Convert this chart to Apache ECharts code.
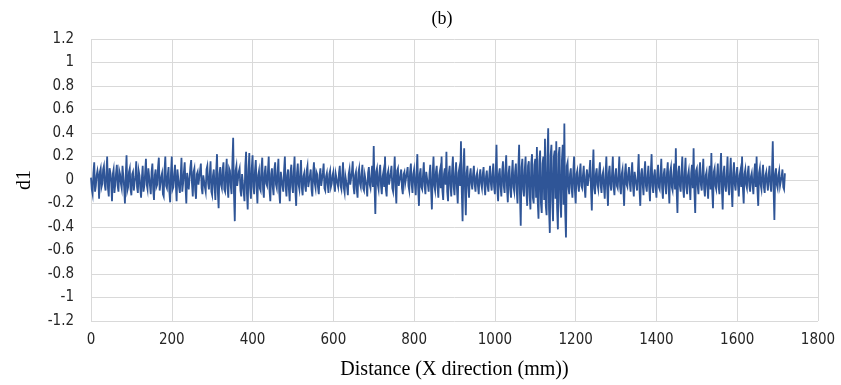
<!DOCTYPE html>
<html>
<head>
<meta charset="utf-8">
<script src="https://cdn.jsdelivr.net/npm/echarts@6/dist/echarts.min.js"></script>
<style>
  html, body { margin: 0; padding: 0; background: #fff; }
  #chart { width: 841px; height: 385px; }
</style>
</head>
<body>
<div id="chart"></div>
<script>
// Detail coefficient d1 sampled every 2 mm along X, from 0 to 1720 mm.
const STEP_MM = 2;
const d1 = [
  // 0 - 98
  0.02,-0.08, -0.12,0.06, 0.15,-0.1, -0.05,0.04, 0.08,0.03, -0.16,0.07, 0.1,-0.06, -0.03,0.09, 0.12,-0.04, -0.09,0.05, 0.2,-0.07, -0.14,0.1, 0.06,-0.02, -0.18,0.05, 0.09,-0.11, -0.04,0.06, 0.13,-0.05, -0.1,0.08, 0.05,-0.03, -0.07,0.12, 0.11,-0.06, -0.2,0.04, 0.21,-0.09, -0.06,0.07, 0.1,-0.08,
  // 100 - 198
  -0.13,0.05, 0.07,-0.09, -0.02,0.03, 0.16,-0.06, -0.11,0.08, 0.04,-0.07, -0.15,0.02, 0.12,-0.1, -0.05,0.06, 0.18,-0.04, -0.08,0.1, 0.03,-0.05, -0.12,0.07, 0.14,-0.08, -0.17,0.04, 0.09,-0.06, -0.04,0.11, 0.19,-0.09, -0.1,0.03, 0.06,-0.12, -0.14,0.08, 0.2,-0.05, -0.07,0.04, 0.11,-0.1, -0.19,0.06,
  // 200 - 298
  0.2,-0.08, -0.06,0.05, 0.13,-0.04, -0.18,0.09, 0.08,-0.06, -0.11,0.03, 0.19,-0.1, -0.03,0.07, 0.15,-0.05, -0.2,0.06, 0.05,-0.08, -0.09,0.11, 0.17,-0.03, -0.14,0.07, 0.1,-0.09, -0.16,0.05, 0.07,-0.04, -0.05,0.08, 0.14,-0.07, -0.12,0.04, 0.04,-0.06, -0.1,0.09, 0.12,-0.03, -0.08,0.05, 0.16,-0.1,
  // 300 - 398
  -0.13,0.04, 0.09,-0.06, -0.17,0.08, 0.22,-0.1, -0.24,0.05, 0.11,-0.04, -0.07,0.09, 0.15,-0.08, -0.1,0.06, 0.18,-0.07, -0.15,0.1, 0.08,-0.05, -0.12,0.14, 0.36,-0.12, -0.35,0.08, 0.12,-0.05, -0.06,0.07, 0.1,-0.09, -0.14,0.05, 0.06,-0.1, -0.18,0.12, 0.24,-0.11, -0.25,0.09, 0.23,-0.07, -0.16,0.1,
  // 400 - 498
  0.21,-0.06, -0.12,0.08, 0.17,-0.05, -0.2,0.04, 0.08,-0.07, -0.09,0.1, 0.19,-0.08, -0.15,0.06, 0.12,-0.03, -0.05,0.07, 0.2,-0.09, -0.18,0.05, 0.1,-0.06, -0.13,0.09, 0.15,-0.04, -0.07,0.06, 0.18,-0.1, -0.2,0.07, 0.06,-0.05, -0.1,0.08, 0.2,-0.06, -0.14,0.04, 0.09,-0.08, -0.18,0.07, 0.13,-0.05,
  // 500 - 598
  -0.11,0.07, 0.2,-0.09, -0.22,0.06, 0.14,-0.04, -0.08,0.05, 0.17,-0.07, -0.13,0.03, 0.06,-0.05, -0.1,0.08, 0.12,-0.06, -0.05,0.04, 0.09,-0.08, -0.14,0.06, 0.15,-0.03, -0.07,0.07, 0.05,-0.06, -0.12,0.04, 0.1,-0.05, -0.04,0.06, 0.14,-0.07, -0.09,0.03, 0.06,-0.04, -0.11,0.05, 0.08,-0.06, -0.03,0.04,
  // 600 - 698
  0.07,-0.04, -0.1,0.05, 0.05,-0.03, -0.06,0.06, 0.12,-0.05, -0.08,0.04, 0.15,-0.07, -0.11,0.03, 0.04,-0.06, -0.13,0.05, 0.09,-0.04, -0.05,0.07, 0.16,-0.06, -0.12,0.04, 0.07,-0.08, -0.15,0.06, 0.1,-0.03, -0.06,0.05, 0.13,-0.07, -0.09,0.04, 0.05,-0.05, -0.14,0.06, 0.11,-0.04, -0.07,0.03, 0.12,-0.06,
  // 700 - 798
  0.29,-0.05, -0.29,0.07, 0.1,-0.04, -0.08,0.06, 0.13,-0.05, -0.12,0.03, 0.07,-0.06, 0.2,-0.08, -0.14,0.05, 0.08,-0.04, -0.05,0.06, 0.12,-0.07, -0.1,0.04, 0.2,-0.06, -0.2,0.08, 0.1,-0.05, -0.06,0.04, 0.09,-0.07, -0.12,0.05, 0.07,-0.03, -0.04,0.06, 0.11,-0.05, -0.09,0.07, 0.14,-0.04, -0.11,0.05,
  // 800 - 898
  0.09,-0.04, -0.13,0.06, 0.22,-0.07, -0.22,0.05, 0.1,-0.06, -0.08,0.04, 0.15,-0.05, -0.12,0.07, 0.06,-0.04, -0.1,0.05, 0.13,-0.08, -0.25,0.06, 0.2,-0.05, -0.09,0.07, 0.12,-0.06, -0.15,0.04, 0.08,-0.07, 0.2,-0.09, -0.17,0.05, 0.1,-0.04, 0.24,-0.1, -0.18,0.06, 0.12,-0.05, -0.14,0.08, 0.2,-0.06,
  // 900 - 998
  -0.13,0.05, 0.15,-0.07, -0.2,0.06, 0.1,-0.05, 0.33,-0.1, -0.35,0.09, 0.27,-0.08, -0.3,0.06, 0.12,-0.05, -0.15,0.04, 0.1,-0.03, -0.08,0.05, 0.12,-0.04, -0.1,0.03, 0.06,-0.05, -0.12,0.04, 0.09,-0.03, -0.07,0.05, 0.11,-0.04, -0.13,0.03, 0.08,-0.05, -0.1,0.04, 0.12,-0.03, -0.09,0.05, 0.14,-0.06,
  // 1000 - 1098
  -0.12,0.06, 0.3,-0.08, -0.18,0.05, 0.1,-0.06, -0.14,0.07, 0.16,-0.05, -0.11,0.08, 0.21,-0.07, -0.19,0.06, 0.12,-0.08, -0.15,0.05, 0.17,-0.06, -0.1,0.07, 0.14,-0.09, -0.2,0.1, 0.3,-0.12, -0.39,0.11, 0.18,-0.08, -0.14,0.09, 0.2,-0.1, -0.22,0.12, 0.16,-0.13, -0.25,0.14, 0.22,-0.15, -0.2,0.13,
  // 1100 - 1198
  0.18,-0.15, 0.28,-0.18, -0.33,0.16, 0.25,-0.2, -0.28,0.14, 0.2,-0.17, 0.35,-0.22, -0.3,0.19, 0.44,-0.25, -0.45,0.21, 0.3,-0.18, -0.35,0.2, 0.25,-0.16, 0.33,-0.24, -0.42,0.22, 0.28,-0.19, -0.32,0.17, 0.3,-0.21, 0.48,-0.26, -0.49,0.12, 0.15,-0.06, -0.12,0.05, 0.1,-0.07, -0.15,0.06, 0.2,-0.08,
  // 1200 - 1298
  -0.2,0.05, 0.08,-0.04, -0.1,0.06, 0.14,-0.05, -0.07,0.04, 0.12,-0.06, -0.15,0.03, 0.09,-0.05, -0.05,0.07, 0.17,-0.08, -0.26,0.06, 0.26,-0.07, -0.12,0.05, 0.1,-0.04, -0.08,0.06, 0.15,-0.05, -0.11,0.04, 0.07,-0.06, -0.16,0.05, 0.2,-0.07, -0.22,0.06, 0.12,-0.04, -0.09,0.05, 0.2,-0.06, -0.13,0.04,
  // 1300 - 1398
  0.1,-0.05, -0.07,0.04, 0.2,-0.06, -0.12,0.05, 0.09,-0.07, -0.22,0.06, 0.14,-0.04, -0.06,0.05, 0.11,-0.03, -0.1,0.06, 0.15,-0.05, -0.14,0.07, 0.08,-0.04, -0.09,0.06, 0.22,-0.08, -0.22,0.05, 0.1,-0.04, -0.13,0.06, 0.16,-0.05, -0.1,0.03, 0.12,-0.06, -0.18,0.07, 0.22,-0.05, -0.11,0.04, 0.09,-0.06,
  // 1400 - 1498
  -0.15,0.05, 0.13,-0.06, -0.08,0.04, 0.18,-0.07, -0.16,0.05, 0.1,-0.04, -0.12,0.06, 0.15,-0.05, -0.2,0.07, 0.11,-0.06, -0.09,0.04, 0.14,-0.08, 0.27,-0.09, -0.28,0.07, 0.12,-0.05, -0.1,0.06, 0.2,-0.07, -0.15,0.05, 0.19,-0.06, -0.12,0.04, 0.08,-0.05, -0.17,0.06, 0.13,-0.07, 0.27,-0.1, -0.28,0.08,
  // 1500 - 1598
  0.1,-0.05, -0.12,0.06, 0.15,-0.04, -0.09,0.05, 0.18,-0.07, -0.14,0.04, 0.07,-0.06, -0.16,0.05, 0.12,-0.08, 0.23,-0.09, -0.24,0.07, 0.1,-0.05, -0.08,0.04, 0.14,-0.06, -0.12,0.08, 0.23,-0.07, -0.25,0.06, 0.12,-0.05, -0.1,0.04, 0.2,-0.06, -0.13,0.05, 0.19,-0.07, -0.23,0.06, 0.15,-0.04, -0.09,0.05,
  // 1600 - 1698
  0.11,-0.05, -0.14,0.04, 0.08,-0.06, 0.2,-0.07, -0.2,0.05, 0.09,-0.04, -0.07,0.06, 0.12,-0.05, -0.1,0.03, 0.06,-0.04, -0.12,0.05, 0.14,-0.06, 0.2,-0.08, -0.22,0.06, 0.1,-0.04, -0.08,0.05, 0.13,-0.06, -0.11,0.04, 0.07,-0.03, -0.09,0.05, 0.12,-0.04, -0.1,0.06, 0.33,-0.07, -0.34,0.05, 0.1,-0.04,
  // 1700 - 1720
  -0.07,0.04, 0.08,-0.05, -0.06,0.03, 0.09,-0.06, -0.08,0.05, 0.05
];
const distances = d1.map((_, i) => i * STEP_MM);

const xTicks = { min: 0, max: 1800, interval: 200 };
const yTicks = { min: -1.2, max: 1.2, interval: 0.2 };

const tickFont = '"Liberation Sans Narrow", "DejaVu Sans Condensed", "Liberation Sans", sans-serif';
const serifFont = '"Liberation Serif", "DejaVu Serif", serif';
const gridColor = '#d9d9d9';

const chart = echarts.init(document.getElementById('chart'), null, { renderer: 'canvas' });
chart.setOption({
  animation: false,
  backgroundColor: '#ffffff',
  title: {
    text: '(b)',
    left: 437,
    top: 5,
    textAlign: 'center',
    textStyle: { fontFamily: serifFont, fontSize: 18, fontWeight: 'normal', color: '#000' }
  },
  grid: { left: 91, right: 23, top: 39, bottom: 63, containLabel: false },
  xAxis: {
    type: 'value',
    min: xTicks.min, max: xTicks.max, interval: xTicks.interval,
    name: 'Distance (X direction (mm))',
    nameLocation: 'middle',
    nameGap: 39,
    nameTextStyle: { fontFamily: serifFont, fontSize: 20, color: '#000' },
    axisLine: { show: false, onZero: false },
    axisTick: { show: false },
    axisLabel: {
      fontFamily: tickFont, fontSize: 15, color: '#262626', margin: 12,
      formatter: v => String(v)
    },
    splitLine: { show: true, lineStyle: { color: gridColor, width: 1 } }
  },
  yAxis: {
    type: 'value',
    min: yTicks.min, max: yTicks.max, interval: yTicks.interval,
    name: 'd1',
    nameLocation: 'middle',
    nameRotate: 90,
    nameGap: 56,
    nameTextStyle: { fontFamily: serifFont, fontSize: 20, color: '#000' },
    axisLine: { show: false },
    axisTick: { show: false },
    axisLabel: {
      fontFamily: tickFont, fontSize: 15, color: '#262626', margin: 17,
      formatter: v => String(Math.round(v * 10) / 10)
    },
    splitLine: { show: true, lineStyle: { color: gridColor, width: 1 } }
  },
  series: [{
    type: 'line',
    data: distances.map((x, i) => [x, d1[i]]),
    showSymbol: false,
    symbol: 'none',
    sampling: null,
    lineStyle: { color: '#2f5597', width: 1.8, join: 'miter' },
    z: 3
  }]
});
</script>
</body>
</html>
